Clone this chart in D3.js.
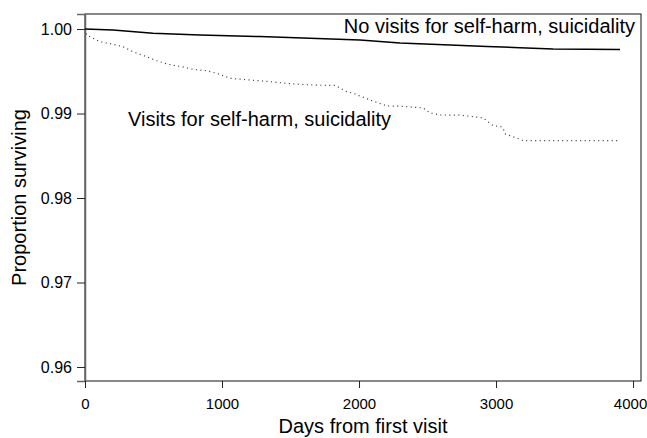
<!DOCTYPE html>
<html>
<head>
<meta charset="utf-8">
<script src="https://cdn.jsdelivr.net/npm/d3@7"></script>
<style>
  body { margin: 0; background: #fff; }
  text { font-family: "Liberation Sans", Arial, sans-serif; fill: #000; }
</style>
</head>
<body>
<div id="vis"></div>
<script>
const FRAME_WIDTH = 647;
const FRAME_HEIGHT = 438;
const MARGINS = {left: 85, right: 6, top: 14, bottom: 57};

// no visits group (solid)
const noVisitDays = [0, 204, 496, 839, 1277, 1642, 2007, 2299, 2664, 2934, 3175, 3416, 3905];
const noVisitSurv = [1.0, 0.99988, 0.99949, 0.99929, 0.99911, 0.99890, 0.99870, 0.99834,
                     0.99811, 0.99793, 0.99779, 0.99764, 0.99758];

// visits group (dotted)
const visitDays = [0, 12, 109, 195, 277, 350, 450, 523, 606, 706, 788, 888, 961, 1058,
                   1204, 1350, 1518, 1691, 1825, 1910, 1956, 2080, 2202, 2321, 2467, 2518,
                   2591, 2737, 2832, 2905, 2978, 3034, 3051, 3066, 3175, 3197, 3891];
const visitSurv = [1.0, 0.99929, 0.99850, 0.99823, 0.99791, 0.99732, 0.99672, 0.99625,
                   0.99583, 0.99554, 0.99523, 0.99507, 0.99476, 0.99417, 0.99397, 0.99377,
                   0.99350, 0.99335, 0.99333, 0.99259, 0.99240, 0.99161, 0.99090, 0.99085,
                   0.99066, 0.99007, 0.98983, 0.98980, 0.98963, 0.98948, 0.98857, 0.98845,
                   0.98829, 0.98759, 0.98696, 0.98679, 0.98679];

const xTicks = [0, 1000, 2000, 3000, 4000];
const yTicks = [0.96, 0.97, 0.98, 0.99, 1.00];

const VIS_WIDTH = FRAME_WIDTH - MARGINS.left - MARGINS.right;
const VIS_HEIGHT = FRAME_HEIGHT - MARGINS.top - MARGINS.bottom;

const svg = d3.select("#vis")
  .append("svg")
    .attr("width", FRAME_WIDTH)
    .attr("height", FRAME_HEIGHT);

const X_SCALE = d3.scaleLinear().domain([0, 4058]).range([0, VIS_WIDTH]);
const Y_SCALE = d3.scaleLinear().domain([0.95834, 1.00178]).range([VIS_HEIGHT, 0]);

const g = svg.append("g")
  .attr("transform", "translate(" + MARGINS.left + "," + MARGINS.top + ")");

// frame
g.append("rect")
  .attr("x", 0).attr("y", 0)
  .attr("width", VIS_WIDTH).attr("height", VIS_HEIGHT)
  .attr("fill", "none")
  .attr("stroke", "#111")
  .attr("stroke-width", 1);

// y axis
const yAxis = g.append("g")
  .call(d3.axisLeft(Y_SCALE).tickValues(yTicks).tickFormat(d3.format(".2f")).tickSize(8).tickPadding(5));
yAxis.select(".domain").attr("stroke", "#666").attr("stroke-width", 1.5);
yAxis.selectAll(".tick line").attr("stroke", "#222");
yAxis.selectAll("text").attr("font-size", 16);

// x axis
const xAxis = g.append("g")
  .attr("transform", "translate(0," + VIS_HEIGHT + ")")
  .call(d3.axisBottom(X_SCALE).tickValues(xTicks).tickFormat(d3.format("d")).tickSize(7).tickPadding(10));
xAxis.select(".domain").remove();
xAxis.selectAll(".tick line").attr("stroke", "#222");
xAxis.selectAll("text").attr("font-size", 15);
// last label sits at the page edge, nudge it inside
xAxis.selectAll("text").filter(d => d === 4000).attr("dx", -3);

// curves
const line = d3.line()
  .x(d => X_SCALE(d[0]))
  .y(d => Y_SCALE(d[1]));

g.append("path")
  .datum(d3.zip(noVisitDays, noVisitSurv))
  .attr("d", line)
  .attr("fill", "none")
  .attr("stroke", "#000")
  .attr("stroke-width", 1.5);

g.append("path")
  .datum(d3.zip(visitDays, visitSurv))
  .attr("d", line)
  .attr("fill", "none")
  .attr("stroke", "#333")
  .attr("stroke-width", 1.2)
  .attr("stroke-dasharray", "1,3.5");

// curve labels
g.append("text")
  .attr("x", VIS_WIDTH - 6)
  .attr("y", 19)
  .attr("text-anchor", "end")
  .attr("font-size", 20)
  .text("No visits for self-harm, suicidality");

g.append("text")
  .attr("x", 43)
  .attr("y", 112)
  .attr("font-size", 20)
  .text("Visits for self-harm, suicidality");

// axis titles
svg.append("text")
  .attr("x", MARGINS.left + VIS_WIDTH / 2)
  .attr("y", FRAME_HEIGHT - 5)
  .attr("text-anchor", "middle")
  .attr("font-size", 20)
  .text("Days from first visit");

svg.append("text")
  .attr("transform", "translate(26," + (MARGINS.top + VIS_HEIGHT / 2) + ") rotate(-90)")
  .attr("text-anchor", "middle")
  .attr("font-size", 20)
  .text("Proportion surviving");
</script>
</body>
</html>
